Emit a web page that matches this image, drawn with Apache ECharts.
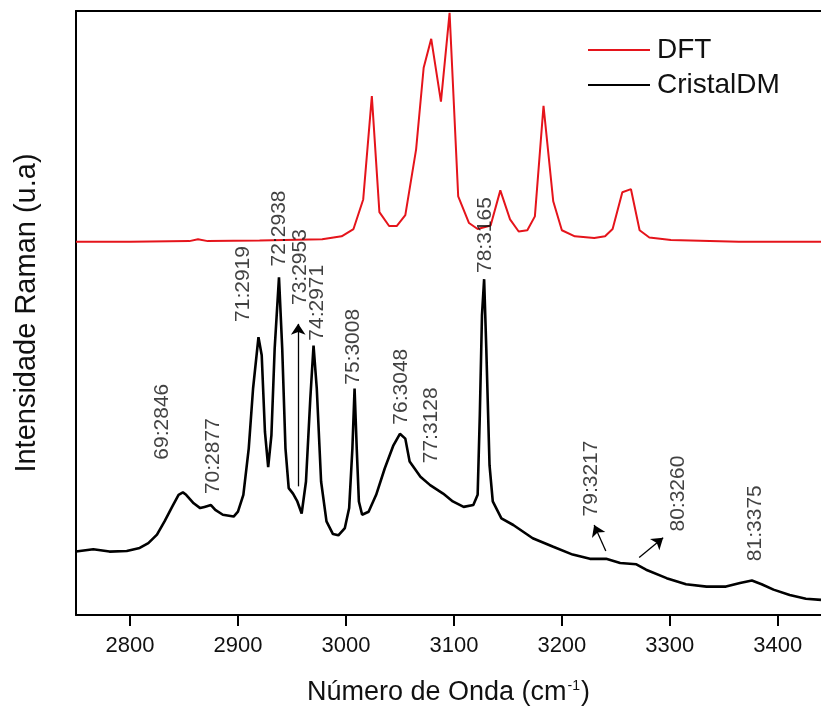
<!DOCTYPE html>
<html>
<head>
<meta charset="utf-8">
<script src="https://cdn.jsdelivr.net/npm/echarts@6/dist/echarts.min.js"></script>
<style>
html,body{margin:0;padding:0;background:#fff;}
#chart{width:821px;height:711px;}
</style>
</head>
<body>
<div id="chart"></div>
<script>
// ---- Data ----
const xTicks = [2800, 2900, 3000, 3100, 3200, 3300, 3400];

const dftX = [2750, 2800, 2855, 2863, 2872, 2920, 2978, 2996, 3007, 3016, 3024, 3031, 3040, 3047, 3055, 3065, 3072, 3079, 3088, 3096, 3104, 3114, 3122, 3134, 3143, 3152, 3160, 3168, 3175, 3183, 3192, 3200, 3212, 3230, 3240, 3247, 3256, 3264, 3272, 3281, 3301, 3364, 3440];
const dftY = [61.8, 61.8, 61.9, 62.2, 61.9, 62.0, 62.2, 62.7, 63.9, 68.8, 85.9, 66.7, 64.4, 64.4, 66.2, 77.1, 90.6, 95.4, 85.0, 99.7, 69.3, 64.9, 63.9, 64.5, 70.3, 65.5, 63.5, 63.7, 66.0, 84.3, 68.5, 63.7, 62.7, 62.4, 62.7, 63.9, 70.0, 70.5, 63.7, 62.5, 62.1, 61.8, 61.8];

const cdmX = [2750, 2766, 2781, 2797, 2809, 2817, 2825, 2832, 2839, 2845, 2849, 2852, 2859, 2865, 2869, 2875, 2879, 2886, 2896, 2900, 2905, 2910, 2914, 2919, 2922, 2925, 2928, 2931, 2934, 2938, 2941, 2944, 2947, 2951, 2955, 2959, 2963, 2967, 2970, 2973, 2977, 2982, 2988, 2993, 2999, 3003, 3006, 3008, 3010, 3012, 3015, 3021, 3028, 3036, 3044, 3050, 3055, 3059, 3069, 3078, 3090, 3099, 3109, 3118, 3122, 3124, 3126, 3128, 3130, 3133, 3136, 3144, 3155, 3173, 3192, 3210, 3226, 3241, 3254, 3269, 3278, 3297, 3315, 3334, 3352, 3365, 3376, 3385, 3396, 3411, 3426, 3440];
const cdmY = [10.5, 10.9, 10.5, 10.6, 11.1, 11.9, 13.3, 15.5, 17.9, 19.9, 20.3, 19.9, 18.5, 17.7, 17.9, 18.2, 17.4, 16.6, 16.3, 17.1, 19.9, 27.6, 37.5, 46.0, 43.0, 30.3, 24.5, 29.8, 44.1, 55.9, 44.1, 27.6, 21.0, 20.1, 18.8, 16.8, 22.1, 35.8, 44.6, 37.5, 22.1, 15.5, 13.4, 13.2, 14.4, 17.7, 27.6, 37.5, 27.6, 18.8, 16.6, 17.1, 19.9, 24.3, 28.1, 30.0, 29.2, 25.4, 22.9, 21.5, 20.1, 18.8, 17.9, 18.2, 19.9, 33.1, 49.6, 55.6, 44.1, 24.8, 18.8, 16.0, 14.9, 12.7, 11.3, 10.0, 9.3, 9.3, 8.6, 8.4, 7.5, 6.1, 5.1, 4.7, 4.7, 5.3, 5.7, 5.1, 4.2, 3.3, 2.7, 2.5];

const annotLabels = ['69:2846', '70:2877', '71:2919', '72:2938', '73:2953', '74:2971', '75:3008', '76:3048', '77:3128', '78:3165', '79:3217', '80:3260', '81:3375'];
const annotX = [2829.4, 2877.5, 2905.3, 2938.0, 2958.1, 2973.4, 3006.8, 3051.6, 3079.4, 3128.7, 3227.5, 3307.7, 3378.7];
const annotY = [32.0, 26.3, 54.8, 64.0, 57.6, 51.7, 44.4, 37.8, 31.4, 62.9, 22.6, 20.1, 15.2];

// arrows: from (x, y) to arrow tip (x, y)
const arrowFromX = [2955.8, 3240.7, 3271.6];
const arrowFromY = [21.3, 10.6, 9.5];
const arrowToX = [2955.8, 3229.9, 3293.8];
const arrowToY = [48.2, 14.9, 12.8];

// ---- Chart ----
const FONT = "'Liberation Sans', Arial, sans-serif";
const TXT = '#111';
const chart = echarts.init(document.getElementById('chart'), null, {renderer: 'canvas'});

const option = {
  animation: false,
  backgroundColor: '#fff',
  textStyle: {fontFamily: FONT},
  grid: {left: 76, top: 11, right: 0, bottom: 94, containLabel: false},
  legend: {
    data: [{name: 'DFT', icon: 'rect'}, {name: 'CristalDM', icon: 'rect'}],
    orient: 'vertical',
    left: 588,
    top: 36,
    padding: 0,
    itemWidth: 62,
    itemHeight: 2,
    itemGap: 7,
    textStyle: {fontSize: 28, color: TXT, fontFamily: FONT, lineHeight: 28, padding: [0, 0, 0, 2]},
    selectedMode: false
  },
  xAxis: [{
    type: 'value',
    position: 'bottom',
    min: 2750,
    max: 3440,
    name: 'Número de Onda (cm{sup|-1})',
    nameLocation: 'middle',
    nameGap: 64,
    nameTextStyle: {
      fontSize: 27, color: TXT, fontFamily: FONT,
      rich: {sup: {fontSize: 14, verticalAlign: 'top', color: TXT, fontFamily: FONT, padding: [0, 1, 12, 1]}}
    },
    axisLine: {show: true, onZero: false, lineStyle: {color: '#000', width: 2}},
    axisTick: {show: true, length: 11, lineStyle: {color: '#000', width: 2}, customValues: xTicks},
    axisLabel: {show: true, fontSize: 22, color: TXT, margin: 20, customValues: xTicks, fontFamily: FONT,
      formatter: v => String(v)},
    splitLine: {show: false}
  }, {
    type: 'value',
    position: 'top',
    min: 2750,
    max: 3440,
    axisLine: {show: true, onZero: false, lineStyle: {color: '#000', width: 2}},
    axisTick: {show: false},
    axisLabel: {show: false},
    splitLine: {show: false}
  }],
  yAxis: {
    type: 'value',
    min: 0,
    max: 100,
    name: 'Intensidade Raman (u.a)',
    nameLocation: 'middle',
    nameRotate: 90,
    nameGap: 35,
    nameTextStyle: {fontSize: 29, color: TXT, fontFamily: FONT},
    axisLine: {show: true, onZero: false, lineStyle: {color: '#000', width: 2}},
    axisTick: {show: false},
    axisLabel: {show: false},
    splitLine: {show: false}
  },
  series: [
    {
      name: 'DFT',
      type: 'line',
      xAxisIndex: 0,
      data: dftX.map((x, i) => [x, dftY[i]]),
      symbol: 'none',
      color: '#e5141b',
      lineStyle: {color: '#e5141b', width: 2},
      z: 3
    },
    {
      name: 'CristalDM',
      type: 'line',
      xAxisIndex: 0,
      data: cdmX.map((x, i) => [x, cdmY[i]]),
      symbol: 'none',
      color: '#000',
      lineStyle: {color: '#000', width: 2.6},
      z: 3
    },
    {
      name: 'annotations',
      type: 'scatter',
      xAxisIndex: 0,
      data: annotX.map((x, i) => ({value: [x, annotY[i]], name: annotLabels[i]})),
      symbolSize: 1,
      itemStyle: {color: 'rgba(0,0,0,0)'},
      silent: true,
      label: {
        show: true,
        formatter: '{b}',
        position: 'inside',
        rotate: 90,
        align: 'center',
        verticalAlign: 'middle',
        fontSize: 21,
        color: TXT,
        textBorderWidth: 0,
        textBorderColor: 'transparent',
        fontFamily: FONT
      },
      markLine: {
        silent: true,
        symbol: ['none', 'arrow'],
        symbolSize: 11,
        label: {show: false},
        lineStyle: {color: '#000', width: 1.3, type: 'solid'},
        itemStyle: {color: '#000'},
        emphasis: {disabled: true},
        data: arrowFromX.map((x, i) => [
          {coord: [x, arrowFromY[i]]},
          {coord: [arrowToX[i], arrowToY[i]]}
        ])
      },
      z: 4
    }
  ]
};
chart.setOption(option);
</script>
</body>
</html>
